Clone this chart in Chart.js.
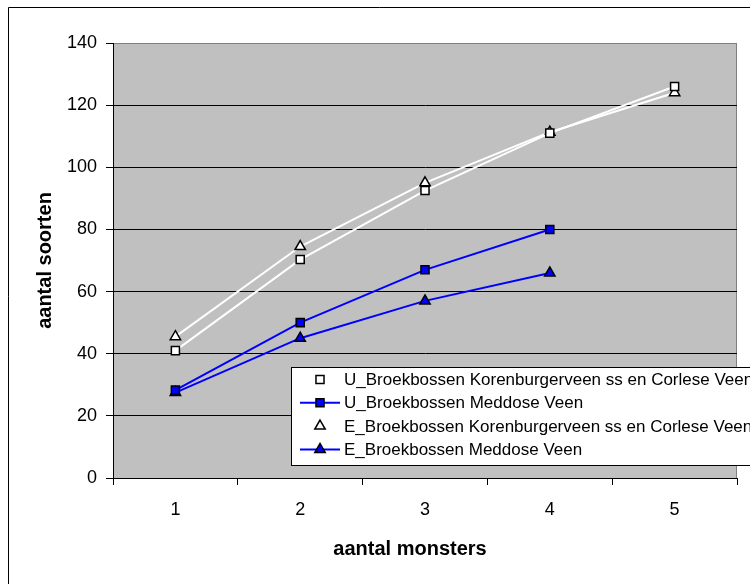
<!DOCTYPE html>
<html>
<head>
<meta charset="utf-8">
<script src="https://cdn.jsdelivr.net/npm/chart.js@4"></script>
<style>
  html, body { margin: 0; padding: 0; background: #fff; overflow: hidden; }
  canvas { display: block; }
</style>
</head>
<body>
<canvas id="chart" width="750" height="584"></canvas>
<script>
// aantal monsters (x categories)
const monsters = ['1', '2', '3', '4', '5'];

// aantal soorten per reeks
const uKorenburg = [41, 70.3, 92.5, 111, 126];
const uMeddose = [28.3, 50, 67, 80, null];
const eKorenburg = [45.5, 74.5, 95, 111.3, 124];
const eMeddose = [27.5, 45, 57, 66, null];

const seriesNames = [
    'U_Broekbossen Korenburgerveen ss en Corlese Veen',
    'U_Broekbossen Meddose Veen',
    'E_Broekbossen Korenburgerveen ss en Corlese Veen',
    'E_Broekbossen Meddose Veen'
];

const yMax = 140;
const yStep = 20;

const FONT = "'Liberation Sans', Arial, sans-serif";

function series(label, data, color, fill, shape, radius) {
    return {
        label: label,
        data: data,
        borderColor: color,
        backgroundColor: fill,
        borderWidth: 2,
        pointStyle: shape,
        pointRadius: radius,
        pointHoverRadius: radius,
        pointBackgroundColor: fill,
        pointBorderColor: '#000',
        pointBorderWidth: 1.5,
        tension: 0,
        spanGaps: false
    };
}

// grey plot area + outer frame
const backdrop = {
    id: 'backdrop',
    beforeDraw(chart) {
        const { ctx, chartArea: a } = chart;
        ctx.save();
        ctx.fillStyle = '#fff';
        ctx.fillRect(0, 0, chart.width, chart.height);
        ctx.strokeStyle = '#000';
        ctx.lineWidth = 1;
        ctx.beginPath();
        ctx.moveTo(8.5, chart.height + 2);
        ctx.lineTo(8.5, 7.5);
        ctx.lineTo(chart.width + 2, 7.5);
        ctx.stroke();
        ctx.fillStyle = '#c0c0c0';
        ctx.fillRect(a.left, a.top, a.right - a.left, a.bottom - a.top);
        ctx.strokeStyle = '#808080';
        ctx.strokeRect(a.left + 0.5, a.top + 0.5, a.right - a.left - 1, a.bottom - a.top);
        ctx.restore();
    }
};

// legend box inside the plot, x title centred on the whole chart
const boxLegend = {
    id: 'boxLegend',
    afterDraw(chart) {
        const { ctx, chartArea: a } = chart;
        const bx = a.left + 178, by = a.top + 324, bw = 480, bh = 98;
        ctx.save();
        ctx.fillStyle = '#fff';
        ctx.fillRect(bx, by, bw, bh);
        ctx.strokeStyle = '#000';
        ctx.lineWidth = 1;
        ctx.strokeRect(bx + 0.5, by + 0.5, bw, bh);

        ctx.font = '17px ' + FONT;
        ctx.textBaseline = 'middle';
        ctx.textAlign = 'left';
        chart.data.datasets.forEach((ds, i) => {
            const y = by + 12.5 + i * 23.3;
            ctx.strokeStyle = ds.borderColor;
            ctx.lineWidth = 2;
            ctx.beginPath();
            ctx.moveTo(bx + 9, y);
            ctx.lineTo(bx + 49, y);
            ctx.stroke();
            ctx.fillStyle = ds.pointBackgroundColor;
            ctx.strokeStyle = '#000';
            ctx.lineWidth = 1.5;
            Chart.helpers.drawPoint(ctx, {
                pointStyle: ds.pointStyle,
                radius: ds.pointRadius,
                rotation: 0,
                borderWidth: 1.5
            }, bx + 29, y);
            ctx.fillStyle = '#000';
            ctx.fillText(ds.label, bx + 53, y + 1);
        });

        ctx.font = 'bold 20px ' + FONT;
        ctx.textAlign = 'center';
        ctx.fillText('aantal monsters', 410, 549);
        ctx.restore();
    }
};

new Chart(document.getElementById('chart'), {
    type: 'line',
    data: {
        labels: monsters,
        datasets: [
            series(seriesNames[0], uKorenburg, '#ffffff', '#ffffff', 'rect', 5.7),
            series(seriesNames[1], uMeddose, '#0000ff', '#0000ff', 'rect', 5.7),
            series(seriesNames[2], eKorenburg, '#ffffff', '#ffffff', 'triangle', 6),
            series(seriesNames[3], eMeddose, '#0000ff', '#0000ff', 'triangle', 6)
        ]
    },
    options: {
        responsive: false,
        devicePixelRatio: 1,
        animation: false,
        layout: { padding: { left: 8, top: 43, right: 13, bottom: 0 } },
        plugins: {
            legend: { display: false },
            tooltip: { enabled: false }
        },
        scales: {
            x: {
                offset: true,
                grid: {
                    offset: true,
                    drawOnChartArea: false,
                    color: '#000',
                    tickLength: 7
                },
                border: { color: '#000', width: 1 },
                ticks: {
                    color: '#000',
                    font: { family: FONT, size: 18 },
                    padding: 14,
                    maxRotation: 0
                },
                afterFit(scale) { scale.height = 106; }
            },
            y: {
                min: 0,
                max: yMax,
                grid: {
                    color: (c) => (c.tick && c.tick.value === yMax ? '#808080' : '#000'),
                    tickColor: '#000',
                    tickLength: 7
                },
                border: { color: '#000', width: 1 },
                ticks: {
                    stepSize: yStep,
                    color: '#000',
                    font: { family: FONT, size: 18 },
                    padding: 9
                },
                title: {
                    display: true,
                    text: 'aantal soorten',
                    color: '#000',
                    font: { family: FONT, size: 20, weight: 'bold' },
                    padding: { top: 25, bottom: 0 }
                },
                afterFit(scale) { scale.width = 105; }
            }
        }
    },
    plugins: [backdrop, boxLegend]
});
</script>
</body>
</html>
